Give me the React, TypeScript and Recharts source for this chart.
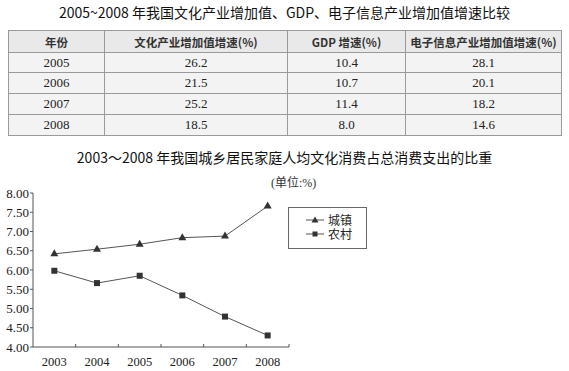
import { LineChart, Line, XAxis, YAxis, Legend } from 'recharts'

const years = ['2003', '2004', '2005', '2006', '2007', '2008']
const urbanShare = [6.42, 6.54, 6.67, 6.84, 6.88, 7.66]
const ruralShare = [5.98, 5.66, 5.85, 5.34, 4.79, 4.3]
const yTicks = [4, 4.5, 5, 5.5, 6, 6.5, 7, 7.5, 8]

const tableHeaders = ['年份', '文化产业增加值增速(%)', 'GDP 增速(%)', '电子信息产业增加值增速(%)']
const tableYears = ['2005', '2006', '2007', '2008']
const cultureGrowth = [26.2, 21.5, 25.2, 18.5]
const gdpGrowth = [10.4, 10.7, 11.4, 8.0]
const electronicGrowth = [28.1, 20.1, 18.2, 14.6]

const data = years.map((year, i) => ({ year, urban: urbanShare[i], rural: ruralShare[i] }))

const SERIF = "'Liberation Serif', 'Noto Sans CJK SC', serif"
const CJK = "'Noto Sans CJK SC', sans-serif"
const INK = '#222'

const CHART_W = 569
const CHART_H = 231
const PLOT_LEFT = 33
const PLOT_RIGHT = 289
const BAND = (PLOT_RIGHT - PLOT_LEFT) / years.length

function XTick({ x, y, payload }: any) {
  return (
    <g>
      <line x1={x + BAND / 2} x2={x + BAND / 2} y1={y} y2={y - 3} stroke="#555" />
      <text x={x} y={y + 19} textAnchor="middle" fontSize={12.5} fontFamily={SERIF} fill={INK}>
        {payload.value}
      </text>
    </g>
  )
}

function Triangle({ cx, cy }: any) {
  if (cx == null || cy == null) return null
  return <polygon points={`${cx},${cy - 4.5} ${cx + 4},${cy + 2.5} ${cx - 4},${cy + 2.5}`} fill="#333" />
}

function Square({ cx, cy }: any) {
  if (cx == null || cy == null) return null
  return <rect x={cx - 3} y={cy - 3} width={6} height={6} fill="#333" />
}

function LegendBox() {
  const row = (label: string, marker: 'tri' | 'sq') => (
    <div style={{ display: 'flex', alignItems: 'center', height: 14 }}>
      <svg width={18} height={10} style={{ marginRight: 4 }}>
        <line x1={0} x2={18} y1={5} y2={5} stroke="#555" />
        {marker === 'tri' ? (
          <polygon points="9,1.5 12.5,7.5 5.5,7.5" fill="#333" />
        ) : (
          <rect x={6.5} y={2.5} width={5} height={5} fill="#333" />
        )}
      </svg>
      <span style={{ fontSize: 12, fontFamily: SERIF, color: INK }}>{label}</span>
    </div>
  )
  return (
    <div
      style={{
        width: 79,
        height: 42,
        boxSizing: 'border-box',
        border: '1px solid #666',
        padding: '5px 0 0 17px',
        background: '#fff',
      }}
    >
      {row('城镇', 'tri')}
      {row('农村', 'sq')}
    </div>
  )
}

const rowHeights = [22, 20, 21, 21, 21]
const colWidths = [95, 182, 117, 155]

export default function App() {
  const cell = (h: number, w: number, header: boolean) => ({
    height: h - 1,
    width: w,
    padding: 0,
    border: '1px solid #9a9a9a',
    textAlign: 'center' as const,
    verticalAlign: 'middle' as const,
    fontFamily: header ? CJK : SERIF,
    fontSize: header ? 11.5 : 13,
    fontWeight: header ? 700 : 400,
    color: header ? '#333' : INK,
  })

  const rows = tableYears.map((y, i) => [y, cultureGrowth[i].toFixed(1), gdpGrowth[i].toFixed(1), electronicGrowth[i].toFixed(1)])

  return (
    <div style={{ position: 'absolute', left: 0, top: 0, width: 569, height: 371, background: '#fff', overflow: 'hidden' }}>
      <div
        style={{
          position: 'absolute',
          top: 2,
          left: 0,
          width: 569,
          textAlign: 'center',
          fontFamily: CJK,
          fontSize: 14,
          lineHeight: '20px',
          color: '#111',
        }}
      >
        2005~2008 年我国文化产业增加值、GDP、电子信息产业增加值增速比较
      </div>

      <table
        style={{
          position: 'absolute',
          left: 8,
          top: 30,
          borderCollapse: 'collapse',
          tableLayout: 'fixed',
          width: 549,
          background: '#f3f3f3',
        }}
      >
        <tbody>
          <tr style={{ background: '#e9e9e9' }}>
            {tableHeaders.map((h, j) => (
              <td key={h} style={cell(rowHeights[0], colWidths[j], true)}>
                {h}
              </td>
            ))}
          </tr>
          {rows.map((r, i) => (
            <tr key={r[0]}>
              {r.map((v, j) => (
                <td key={j} style={cell(rowHeights[i + 1], colWidths[j], false)}>
                  {v}
                </td>
              ))}
            </tr>
          ))}
        </tbody>
      </table>

      <div
        style={{
          position: 'absolute',
          top: 147,
          left: 0,
          width: 569,
          textAlign: 'center',
          fontFamily: CJK,
          fontSize: 14,
          lineHeight: '20px',
          color: '#111',
        }}
      >
        2003～2008 年我国城乡居民家庭人均文化消费占总消费支出的比重
      </div>

      <div
        style={{
          position: 'absolute',
          top: 175,
          left: 271,
          fontFamily: SERIF,
          fontSize: 12,
          lineHeight: '16px',
          color: '#333',
        }}
      >
        (单位:%)
      </div>

      <div style={{ position: 'absolute', top: 140, left: 0 }}>
        <LineChart
          width={CHART_W}
          height={CHART_H}
          data={data}
          margin={{ top: 53, left: 0, right: CHART_W - PLOT_RIGHT, bottom: 0 }}
        >
          <XAxis
            dataKey="year"
            scale="band"
            height={24}
            tickLine={false}
            tickSize={0}
            tickMargin={0}
            axisLine={{ stroke: '#555' }}
            tick={<XTick />}
            interval={0}
          />
          <YAxis
            width={PLOT_LEFT}
            domain={[4, 8]}
            ticks={yTicks}
            tickFormatter={(v: number) => v.toFixed(2)}
            tickSize={3}
            tickMargin={1}
            tick={{ fontSize: 13, fontFamily: SERIF, fill: INK }}
            axisLine={{ stroke: '#555' }}
            tickLine={{ stroke: '#555' }}
            interval={0}
          />
          <Legend
            layout="vertical"
            align="center"
            verticalAlign="middle"
            content={<LegendBox />}
            wrapperStyle={{ left: 288, top: 67, width: 79, height: 42 }}
          />
          <Line
            dataKey="urban"
            name="城镇"
            stroke="#555"
            strokeWidth={1}
            dot={<Triangle />}
            activeDot={false}
            isAnimationActive={false}
          />
          <Line
            dataKey="rural"
            name="农村"
            stroke="#555"
            strokeWidth={1}
            dot={<Square />}
            activeDot={false}
            isAnimationActive={false}
          />
        </LineChart>
      </div>
    </div>
  )
}
